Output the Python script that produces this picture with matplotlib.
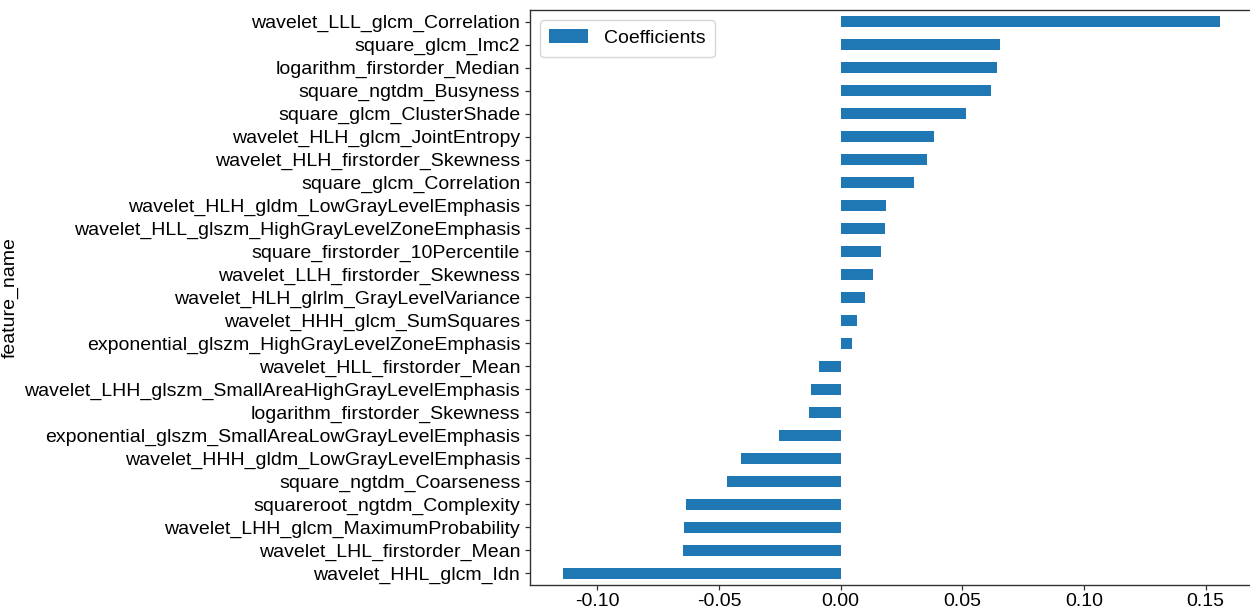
import matplotlib
matplotlib.use("Agg")
import matplotlib.pyplot as plt
import pandas as pd

plt.rcParams['font.family'] = ['Liberation Sans', 'DejaVu Sans']
plt.rcParams['font.size'] = 14.0
plt.rcParams['axes.unicode_minus'] = False

# lasso coefficients, ordered from top bar to bottom bar
feature_names = [
    "wavelet_LLL_glcm_Correlation",
    "square_glcm_Imc2",
    "logarithm_firstorder_Median",
    "square_ngtdm_Busyness",
    "square_glcm_ClusterShade",
    "wavelet_HLH_glcm_JointEntropy",
    "wavelet_HLH_firstorder_Skewness",
    "square_glcm_Correlation",
    "wavelet_HLH_gldm_LowGrayLevelEmphasis",
    "wavelet_HLL_glszm_HighGrayLevelZoneEmphasis",
    "square_firstorder_10Percentile",
    "wavelet_LLH_firstorder_Skewness",
    "wavelet_HLH_glrlm_GrayLevelVariance",
    "wavelet_HHH_glcm_SumSquares",
    "exponential_glszm_HighGrayLevelZoneEmphasis",
    "wavelet_HLL_firstorder_Mean",
    "wavelet_LHH_glszm_SmallAreaHighGrayLevelEmphasis",
    "logarithm_firstorder_Skewness",
    "exponential_glszm_SmallAreaLowGrayLevelEmphasis",
    "wavelet_HHH_gldm_LowGrayLevelEmphasis",
    "square_ngtdm_Coarseness",
    "squareroot_ngtdm_Complexity",
    "wavelet_LHH_glcm_MaximumProbability",
    "wavelet_LHL_firstorder_Mean",
    "wavelet_HHL_glcm_Idn",
]
coefficients = [
    0.1560, 0.0655, 0.0641, 0.0620, 0.0517, 0.0384, 0.0356, 0.0301,
    0.0186, 0.0182, 0.0166, 0.0135, 0.0101, 0.0067, 0.0047,
    -0.0087, -0.0123, -0.0130, -0.0254, -0.0411, -0.0467,
    -0.0635, -0.0645, -0.0648, -0.1141,
]

df = pd.DataFrame({"feature_name": feature_names, "Coefficients": coefficients})
df = df.set_index("feature_name").iloc[::-1]

fig = plt.figure(figsize=(12.5, 6.1), dpi=100)
ax = fig.add_axes([0.424, 0.041, 0.5785, 0.9426])
df.plot.barh(ax=ax, color="#1f77b4")

for side in ["left", "bottom", "top", "right"]:
    ax.spines[side].set_color("#333333")
    ax.spines[side].set_linewidth(1.0)
ax.tick_params(colors="#333333", labelcolor="black", length=3.5, width=0.9)
ax.tick_params(axis="x", pad=2.5)
ax.yaxis.labelpad = 4

leg = ax.legend(loc="upper left", fancybox=True, framealpha=0.8,
                edgecolor="#cccccc", borderpad=0.5)

fig.savefig("out.png", dpi=100)
